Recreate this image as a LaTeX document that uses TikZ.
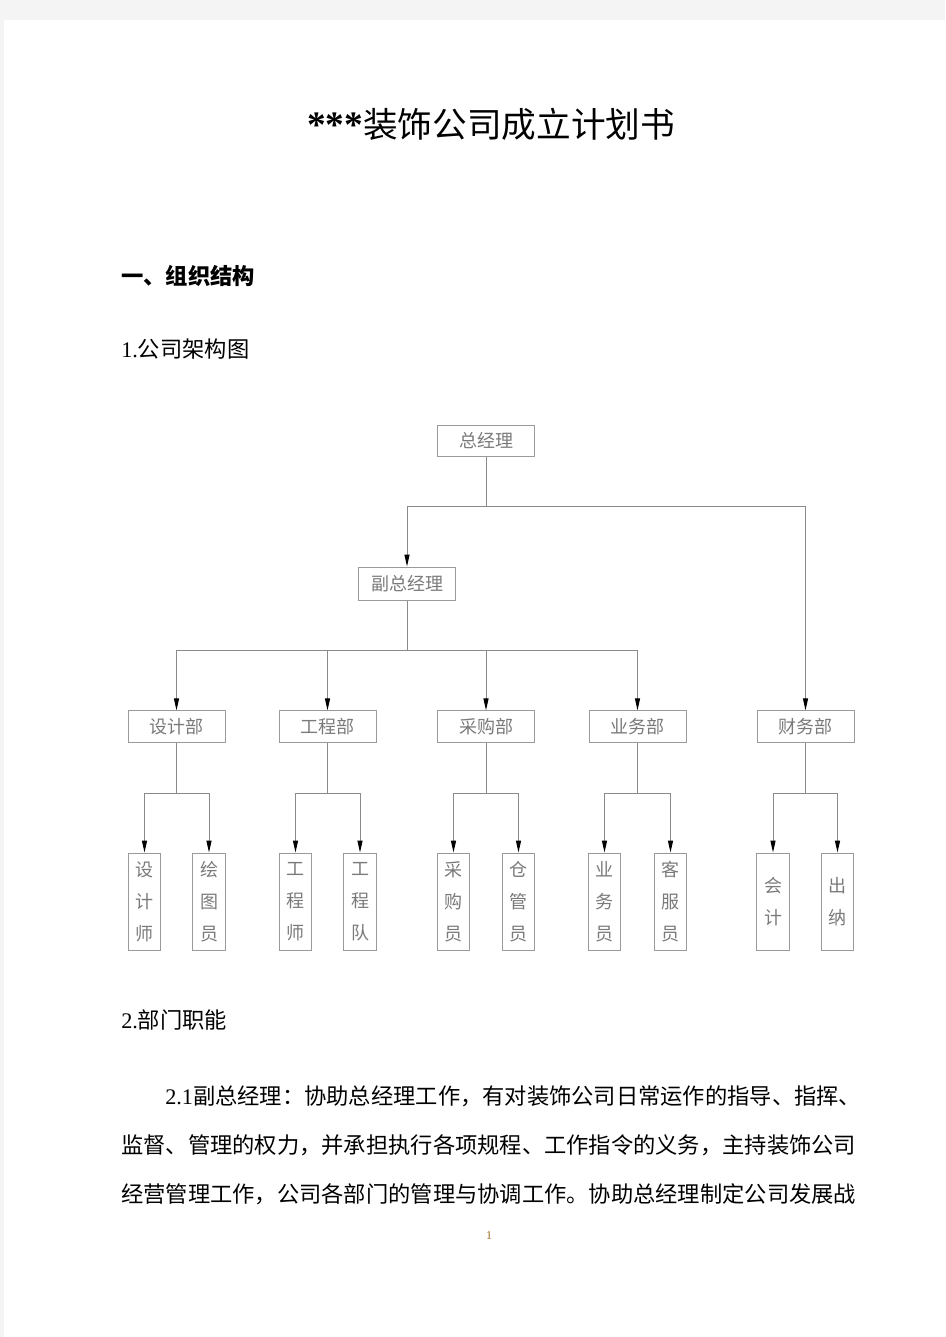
\documentclass[tikz,border=0pt]{standalone}
\usepackage{fontspec}
\setmainfont{Liberation Serif}
\newfontfamily\cjk{Noto Sans CJK SC}
\usetikzlibrary{arrows.meta}
\definecolor{pagegray}{HTML}{F4F4F4}
\definecolor{linegray}{HTML}{8A8A8A}
\definecolor{boxgray}{HTML}{9A9A9A}
\definecolor{lblgray}{HTML}{7A7A7A}
\definecolor{pgnum}{HTML}{A06A20}
\newcommand\bodyfont{\fontsize{16.7pt}{20pt}\selectfont}
\newcommand\lblfont{\cjk\fontsize{13.5pt}{24pt}\selectfont}
\begin{document}
\begin{tikzpicture}[x=0.75pt,y=-0.75pt,
  box/.style={draw=boxgray, line width=0.75pt, inner sep=0pt, text=lblgray, font=\lblfont},
  dept/.style={box, minimum width=72.75pt, minimum height=23.5pt},
  staff/.style={box, minimum width=24.4pt, minimum height=72.75pt, align=center},
  conn/.style={draw=linegray, line width=0.75pt},
  arr/.style={conn, -{Triangle[length=9pt,width=3.8pt,color=black]}},
  txt/.style={anchor=base west, inner sep=0pt, font=\bodyfont, text=black}]
\fill[pagegray] (0,0) rectangle (945,1337);
\fill[white] (4,20) rectangle (945,1337);
\useasboundingbox (0,0) rectangle (945,1337);

% texts
\node[anchor=base, inner sep=0pt] (title) at (491,138) {\fontsize{28pt}{32pt}\selectfont\textbf{***}\cjk\fontsize{26pt}{30pt}\selectfont 装饰公司成立计划书};
\node[txt] (h1) at (121,284.5) {\cjk\bfseries 一、组织结构};
\node[txt] (h2) at (121,357.5) {1.\cjk 公司架构图};
\node[txt] (h3) at (121,1028.5) {2.\cjk 部门职能};
\node[txt] (p1) at (165,1104.5) {2.1\cjk 副总经理：协助总经理工作，有对装饰公司日常运作的指导、指挥、};
\node[txt] (p2) at (121,1153.5) {\cjk 监督、管理的权力，并承担执行各项规程、工作指令的义务，主持装饰公司};
\node[txt] (p3) at (121,1202.5) {\cjk 经营管理工作，公司各部门的管理与协调工作。协助总经理制定公司发展战};
\node[inner sep=0pt, font=\fontsize{9pt}{10pt}\selectfont, text=pgnum] (pg) at (489,1236) {1};

% chart nodes
\node[dept, minimum height=23.25pt] (zjl) at (486,440.5) {总经理};
\node[dept, minimum height=24.75pt] (fz) at (407,583.5) {副总经理};
\node[dept] (sj) at (176.5,726.5) {设计部};
\node[dept] (gc) at (327.5,726.5) {工程部};
\node[dept] (cg) at (486,726.5) {采购部};
\node[dept] (yw) at (637.5,726.5) {业务部};
\node[dept] (cw) at (805.5,726.5) {财务部};

\node[staff] (s1) at (144.5,901.5) {设\\计\\师};
\node[staff] (s2) at (209,901.5) {绘\\图\\员};
\node[staff] (s3) at (295.5,901.5) {工\\程\\师};
\node[staff] (s4) at (360,901.5) {工\\程\\队};
\node[staff] (s5) at (453.5,901.5) {采\\购\\员};
\node[staff] (s6) at (518.5,901.5) {仓\\管\\员};
\node[staff] (s7) at (604.5,901.5) {业\\务\\员};
\node[staff] (s8) at (670.5,901.5) {客\\服\\员};
\node[staff] (s9) at (773,901.5) {会\\计};
\node[staff] (s10) at (837.5,901.5) {出\\纳};

% connectors
\coordinate (b1) at (486,506);
\coordinate (b2) at (407,650);
\draw[conn] (zjl.south) -- (b1);
\draw[arr] (b1) -| (fz.north);
\draw[arr] (b1) -| (cw.north);
\draw[conn] (fz.south) -- (b2);
\draw[arr] (b2) -| (sj.north);
\draw[arr] (b2) -| (gc.north);
\draw[arr] (b2) -| (cg.north);
\draw[arr] (b2) -| (yw.north);

\coordinate (d1) at (176.5,793);
\coordinate (d2) at (327.5,793);
\coordinate (d3) at (486,793);
\coordinate (d4) at (637.5,793);
\coordinate (d5) at (805.5,793);
\draw[conn] (sj.south) -- (d1);
\draw[conn] (gc.south) -- (d2);
\draw[conn] (cg.south) -- (d3);
\draw[conn] (yw.south) -- (d4);
\draw[conn] (cw.south) -- (d5);
\draw[arr] (d1) -| (s1.north);
\draw[arr] (d1) -| (s2.north);
\draw[arr] (d2) -| (s3.north);
\draw[arr] (d2) -| (s4.north);
\draw[arr] (d3) -| (s5.north);
\draw[arr] (d3) -| (s6.north);
\draw[arr] (d4) -| (s7.north);
\draw[arr] (d4) -| (s8.north);
\draw[arr] (d5) -| (s9.north);
\draw[arr] (d5) -| (s10.north);
\end{tikzpicture}
\end{document}
